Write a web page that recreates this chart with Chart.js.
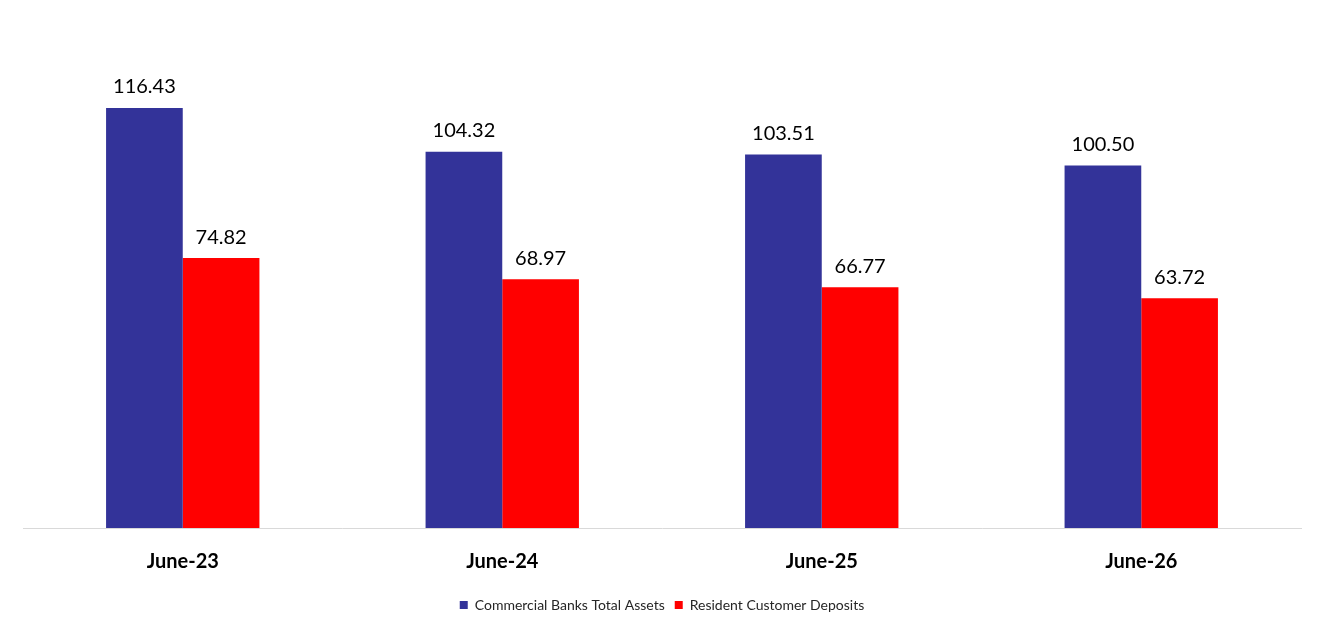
<!DOCTYPE html>
<html>
<head>
<meta charset="utf-8">
<script src="https://cdn.jsdelivr.net/npm/chart.js@4/dist/chart.umd.min.js"></script>
<style>
  html, body { margin: 0; padding: 0; background: #fff; }
  #wrap { width: 1324px; height: 635px; }
</style>
</head>
<body>
<div id="wrap"><canvas id="chart" width="1324" height="635"></canvas></div>
<script>
// data
const periods = ['June-23', 'June-24', 'June-25', 'June-26'];
const totalAssets = [116.43, 104.32, 103.51, 100.50];
const customerDeposits = [74.82, 68.97, 66.77, 63.72];
const seriesNames = ['Commercial Banks Total Assets', 'Resident Customer Deposits'];

const FONT = 'Lato, "Open Sans", sans-serif';

// draws the value above each bar
const valueLabels = {
    id: 'valueLabels',
    afterDatasetsDraw(chart) {
        const ctx = chart.ctx;
        ctx.save();
        ctx.font = '20px ' + FONT;
        ctx.fillStyle = '#000';
        ctx.textAlign = 'center';
        ctx.textBaseline = 'bottom';
        chart.data.datasets.forEach((ds, i) => {
            chart.getDatasetMeta(i).data.forEach((bar, j) => {
                ctx.fillText(ds.data[j].toFixed(2), bar.x, bar.y - 11);
            });
        });
        ctx.restore();
    }
};

const ctxChart = document.querySelector('#chart');

new Chart(ctxChart, {
    type: 'bar',
    data: {
        labels: periods,
        datasets: [{
            label: seriesNames[0],
            data: totalAssets,
            backgroundColor: '#333399'
        }, {
            label: seriesNames[1],
            data: customerDeposits,
            backgroundColor: '#ff0000'
        }]
    },
    options: {
        responsive: false,
        animation: false,
        layout: { padding: { left: 23, right: 23, top: 23, bottom: 13 } },
        datasets: {
            bar: { categoryPercentage: 0.48, barPercentage: 1.0 }
        },
        scales: {
            x: {
                grid: { display: false },
                border: { color: '#d9d9d9', width: 1 },
                ticks: {
                    color: '#000',
                    padding: 14,
                    font: { family: FONT, size: 20, weight: 'bold' }
                }
            },
            y: {
                display: false,
                min: 0,
                max: 140
            }
        },
        plugins: {
            tooltip: { enabled: false },
            legend: {
                position: 'bottom',
                labels: {
                    boxWidth: 8,
                    boxHeight: 8,
                    padding: 10,
                    color: '#262626',
                    font: { family: FONT, size: 14 }
                }
            }
        }
    },
    plugins: [valueLabels]
});
</script>
</body>
</html>
